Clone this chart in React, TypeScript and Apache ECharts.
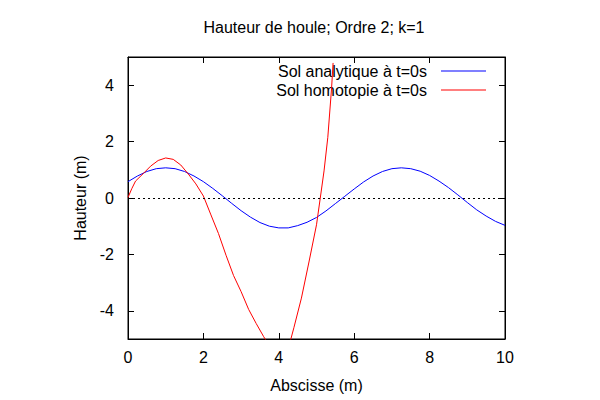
import React, { useEffect, useRef } from 'react';
import * as echarts from 'echarts';

const titleText = 'Hauteur de houle; Ordre 2; k=1';
const xAxisName = 'Abscisse (m)';
const yAxisName = 'Hauteur (m)';
const seriesNames = ['Sol analytique à t=0s', 'Sol homotopie à t=0s'];
const xTicks = [0, 2, 4, 6, 8, 10];
const yTicks = [-4, -2, 0, 2, 4];

const blueX = [0, 0.25, 0.5, 0.75, 1, 1.25, 1.5, 1.75, 2, 2.25, 2.5, 2.75, 3, 3.25, 3.5, 3.75, 4, 4.25, 4.5, 4.75, 5, 5.25, 5.5, 5.75, 6, 6.25, 6.5, 6.75, 7, 7.25, 7.5, 7.75, 8, 8.25, 8.5, 8.75, 9, 9.25, 9.5, 9.75, 10];
const blueY = [0.58, 0.78, 0.94, 1.04, 1.07, 1.04, 0.94, 0.78, 0.58, 0.34, 0.08, -0.19, -0.45, -0.68, -0.87, -1.0, -1.06, -1.06, -0.98, -0.86, -0.69, -0.46, -0.2, 0.06, 0.32, 0.57, 0.78, 0.94, 1.04, 1.07, 1.04, 0.95, 0.8, 0.6, 0.37, 0.11, -0.16, -0.42, -0.64, -0.83, -0.97];

const redX = [0, 0.1, 0.2, 0.4, 0.6, 0.8, 1.0, 1.2, 1.4, 1.6, 1.8, 2.0, 2.2, 2.4, 2.6, 2.8, 3.0, 3.2, 3.4, 3.6, 3.8, 4.0, 4.2, 4.4, 4.6, 4.8, 5.0, 5.1, 5.2, 5.3, 5.4, 5.44];
const redY = [0.02, 0.33, 0.6, 0.86, 1.13, 1.33, 1.42, 1.37, 1.17, 0.85, 0.5, 0.07, -0.6, -1.26, -2.03, -2.75, -3.32, -3.95, -4.45, -4.92, -5.35, -5.6, -5.6, -4.6, -3.55, -2.27, -0.95, 0.0, 0.96, 2.15, 3.9, 4.79];

const FONT = "'Liberation Sans', Arial, sans-serif";
const LEGEND_LINE = 'path://M0,0H90V2H0Z';

export default function App() {
  const ref = useRef<HTMLDivElement>(null);
  useEffect(() => {
    if (!ref.current) return;
    const chart = echarts.init(ref.current, undefined, { renderer: 'svg' });
    const blueData = blueX.map((x, i) => [x, blueY[i]]);
    const redData = redX.map((x, i) => [x, redY[i]]);
    const tickStyle = { show: true, inside: true, length: 6, lineStyle: { color: '#000', width: 1 } };
    const legendBase = {
      orient: 'vertical',
      align: 'right',
      right: 114,
      padding: 0,
      itemWidth: 45,
      itemHeight: 14,
      icon: LEGEND_LINE,
      textStyle: { fontSize: 16, color: '#000', fontFamily: FONT, padding: [0, 9, 0, 0] },
    };
    chart.setOption({
      animation: false,
      backgroundColor: '#fff',
      textStyle: { fontFamily: FONT },
      title: {
        text: titleText,
        left: 314,
        textAlign: 'center',
        top: 19,
        padding: 0,
        textStyle: { fontSize: 16, fontWeight: 'normal', color: '#000', fontFamily: FONT },
      },
      legend: [
        { ...legendBase, data: [seriesNames[0]], top: 63 },
        { ...legendBase, data: [seriesNames[1]], top: 82 },
      ],
      grid: {
        left: 128,
        right: 95,
        top: 57,
        bottom: 61,
        show: true,
        borderColor: '#000',
        borderWidth: 1,
        backgroundColor: 'transparent',
      },
      xAxis: [
        {
          type: 'value',
          min: 0,
          max: 10,
          interval: 2,
          position: 'bottom',
          name: xAxisName,
          nameLocation: 'middle',
          nameGap: 38,
          nameTextStyle: { fontSize: 16, color: '#000', fontFamily: FONT },
          axisLine: { show: true, onZero: false, lineStyle: { color: '#000', width: 1 } },
          axisTick: { ...tickStyle, customValues: xTicks },
          axisLabel: { customValues: xTicks, fontSize: 16, color: '#000', margin: 10, fontFamily: FONT },
          splitLine: { show: false },
        },
        {
          type: 'value',
          min: 0,
          max: 10,
          interval: 2,
          position: 'top',
          axisLine: { show: true, onZero: false, lineStyle: { color: '#000', width: 1 } },
          axisTick: { ...tickStyle, customValues: xTicks },
          axisLabel: { show: false },
          splitLine: { show: false },
        },
      ],
      yAxis: [
        {
          type: 'value',
          min: -5,
          max: 5,
          position: 'left',
          name: yAxisName,
          nameLocation: 'middle',
          nameGap: 28,
          nameRotate: 90,
          nameTextStyle: { fontSize: 16, color: '#000', fontFamily: FONT },
          axisLine: { show: true, onZero: false, lineStyle: { color: '#000', width: 1 } },
          axisTick: { ...tickStyle, customValues: yTicks },
          axisLabel: { customValues: yTicks, fontSize: 16, color: '#000', margin: 14, fontFamily: FONT },
          splitLine: { show: false },
        },
        {
          type: 'value',
          min: -5,
          max: 5,
          position: 'right',
          axisLine: { show: true, onZero: false, lineStyle: { color: '#000', width: 1 } },
          axisTick: { ...tickStyle, customValues: yTicks },
          axisLabel: { show: false },
          splitLine: { show: false },
        },
      ],
      series: [
        {
          name: seriesNames[0],
          type: 'line',
          data: blueData,
          smooth: false,
          symbol: 'none',
          clip: true,
          color: '#0000ff',
          lineStyle: { color: '#0000ff', width: 1 },
          markLine: {
            silent: true,
            symbol: 'none',
            label: { show: false },
            lineStyle: { color: '#000', width: 1, type: [2, 3] },
            data: [{ yAxis: 0 }],
          },
          z: 3,
        },
        {
          name: seriesNames[1],
          type: 'line',
          data: redData,
          smooth: false,
          symbol: 'none',
          clip: true,
          color: '#ff0000',
          lineStyle: { color: '#ff0000', width: 1 },
          z: 4,
        },
      ],
    });
    return () => chart.dispose();
  }, []);
  return <div ref={ref} style={{ position: 'absolute', left: 0, top: 0, width: 600, height: 400 }} />;
}
